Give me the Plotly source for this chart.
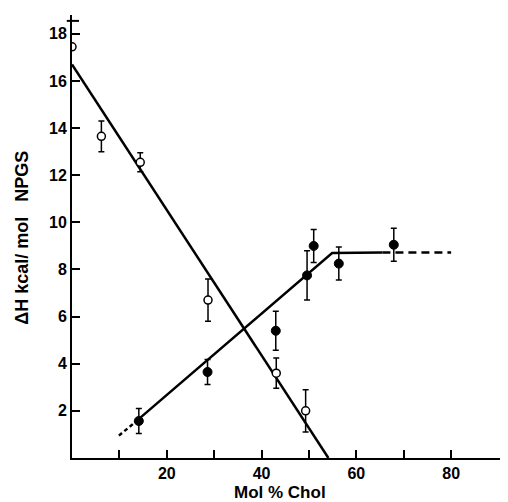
import plotly.graph_objects as go

# Open circles (NPGS)
open_x = [0, 6.2, 14.4, 28.7, 43.1, 49.3]
open_y = [17.45, 13.65, 12.55, 6.7, 3.6, 2.0]
open_err = [0.0, 0.65, 0.4, 0.9, 0.64, 0.9]

# Filled circles
fill_x = [14.1, 28.6, 43.0, 49.6, 51.0, 56.3, 67.9]
fill_y = [1.57, 3.65, 5.4, 7.75, 9.0, 8.25, 9.05]
fill_err = [0.53, 0.53, 0.83, 1.05, 0.7, 0.7, 0.7]

# Fitted lines
open_line_x = [0, 54.1]
open_line_y = [16.7, 0]
fill_dash1_x = [9.9, 13.2]
fill_dash1_y = [0.95, 1.5]
fill_solid_x = [13.2, 54.9, 65.5]
fill_solid_y = [1.5, 8.7, 8.72]
fill_dash2_x = [65.5, 80]
fill_dash2_y = [8.72, 8.72]

x_tickvals = [10, 20, 30, 40, 50, 60, 70, 80]
x_ticktext = ["", "<b>20</b>", "", "<b>40</b>", "", "<b>60</b>", "", "<b>80</b>"]
y_tickvals = [2, 4, 6, 8, 10, 12, 14, 16, 18]
y_ticktext = ["<b>%d</b>" % v for v in y_tickvals]

fig = go.Figure()
lw = 2.5
fig.add_trace(go.Scatter(x=open_line_x, y=open_line_y, mode="lines",
                         line=dict(color="black", width=lw), showlegend=False))
fig.add_trace(go.Scatter(x=fill_dash1_x, y=fill_dash1_y, mode="lines",
                         line=dict(color="black", width=lw, dash="4px,3px"), showlegend=False))
fig.add_trace(go.Scatter(x=fill_solid_x, y=fill_solid_y, mode="lines",
                         line=dict(color="black", width=lw), showlegend=False))
fig.add_trace(go.Scatter(x=fill_dash2_x, y=fill_dash2_y, mode="lines",
                         line=dict(color="black", width=lw, dash="8px,5px"), showlegend=False))

fig.add_trace(go.Scatter(x=open_x, y=open_y, mode="markers",
                         marker=dict(symbol="circle", size=8, color="white",
                                     line=dict(color="black", width=1.5)),
                         error_y=dict(type="data", array=open_err, visible=True,
                                      color="black", thickness=1.5, width=3),
                         showlegend=False))
fig.add_trace(go.Scatter(x=fill_x, y=fill_y, mode="markers",
                         marker=dict(symbol="circle", size=9, color="black",
                                     line=dict(color="black", width=1)),
                         error_y=dict(type="data", array=fill_err, visible=True,
                                      color="black", thickness=1.5, width=3),
                         showlegend=False))

font_family = "Liberation Sans, Arial, sans-serif"
fig.update_layout(
    width=508, height=502,
    margin=dict(l=64, r=8, t=7, b=52),
    plot_bgcolor="white", paper_bgcolor="white",
    font=dict(family=font_family, color="black", size=16),
    xaxis=dict(range=[0, 92], showline=True, linewidth=2, linecolor="black",
               showgrid=False, zeroline=False, ticks="inside", ticklen=8,
               tickwidth=2, tickcolor="black",
               tickvals=x_tickvals, ticktext=x_ticktext,
               tickfont=dict(size=16)),
    yaxis=dict(range=[0, 18.8], showline=True, linewidth=2, linecolor="black",
               showgrid=False, zeroline=False, ticks="inside", ticklen=8,
               tickwidth=2, tickcolor="black", tickvals=y_tickvals,
               ticktext=y_ticktext, tickfont=dict(size=16)),
    annotations=[
        dict(text="<b>Mol % Chol</b>", xref="paper", yref="paper",
             x=0.477, y=-0.079, xanchor="center", yanchor="middle",
             showarrow=False, font=dict(size=17)),
        dict(text="<b>\u0394H kcal/ mol   NPGS</b>", xref="paper", yref="paper",
             x=-0.115, y=0.497, xanchor="center", yanchor="middle",
             textangle=-90, showarrow=False, font=dict(size=18)),
    ],
)
fig.add_shape(type="line", xref="paper", yref="y", x0=-0.012, x1=0.016,
              y0=18.55, y1=18.55, line=dict(color="black", width=2))

fig.write_html("out.html")
